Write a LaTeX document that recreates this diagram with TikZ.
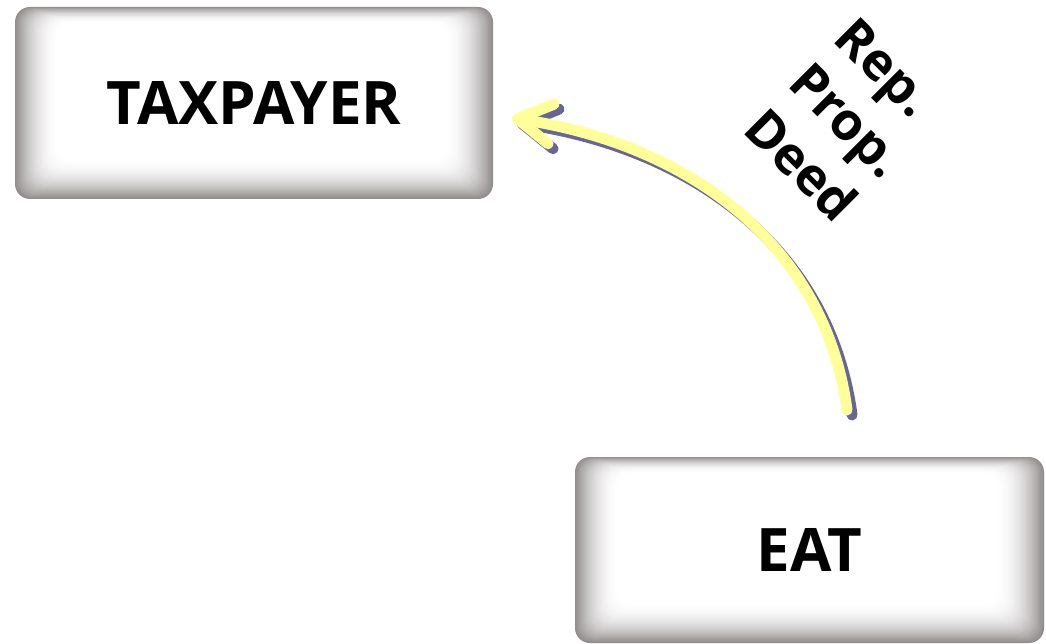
\documentclass[tikz,border=0pt]{standalone}
\usepackage{fontspec}
\setmainfont{Open Sans}
\usepackage{xcolor}
\usetikzlibrary{positioning,arrows.meta}
\definecolor{arrowyellow}{HTML}{FFFF99}
\definecolor{arrowshade}{HTML}{666699}
\definecolor{edgegray}{HTML}{928D8D}

\begin{document}
\begin{tikzpicture}[x=1pt, y=-1pt, font=\bfseries\fontsize{60}{72}\selectfont,
  glassbox/.style={rounded corners=15pt, fill=edgegray, inner sep=0pt,
    path picture={
      \foreach \i in {1,...,40}{
        \pgfmathsetmacro\shade{100*(1-(1-\i/40)^2)}
        \fill[white!\shade!edgegray, rounded corners=15pt]
          ([shift={(\i*1.1pt,-\i*0.4pt)}]path picture bounding box.north west) rectangle
          ([shift={(-\i*1.2pt,\i*1.0pt)}]path picture bounding box.south east);
      }
    }},
  flowarrow/.style={line width=11pt, line cap=round,
    -{Straight Barb[length=34pt,width=40pt,line cap=round,line join=round]}}]
\useasboundingbox (0,0) rectangle (1046,644);
% boxes
\node[glassbox, minimum width=478pt, minimum height=192pt] (taxpayer) at (254,103) {\raisebox{-5pt}{TAXPAYER}\hspace{8pt}};
\node[glassbox, minimum width=469pt, minimum height=186pt] (eat) at (809.5,550) {EAT};
% arrow end points
\coordinate (from) at (847,410);
\coordinate (to) at (512,118);
% shadow first, then the yellow arrow
\draw[flowarrow, arrowshade, transform canvas={xshift=5pt,yshift=-5pt}]
  (from) .. controls (825,245) and (690,145) .. (to);
\draw[flowarrow, arrowyellow]
  (from) .. controls (825,245) and (690,145) .. (to);
% label
\node[rotate=-45, anchor=north west, align=left, inner sep=0pt,
  font=\bfseries\fontsize{52}{64}\selectfont] (deedlabel) at (858,14) {Rep.\\Prop.\\Deed};
\end{tikzpicture}
\end{document}
